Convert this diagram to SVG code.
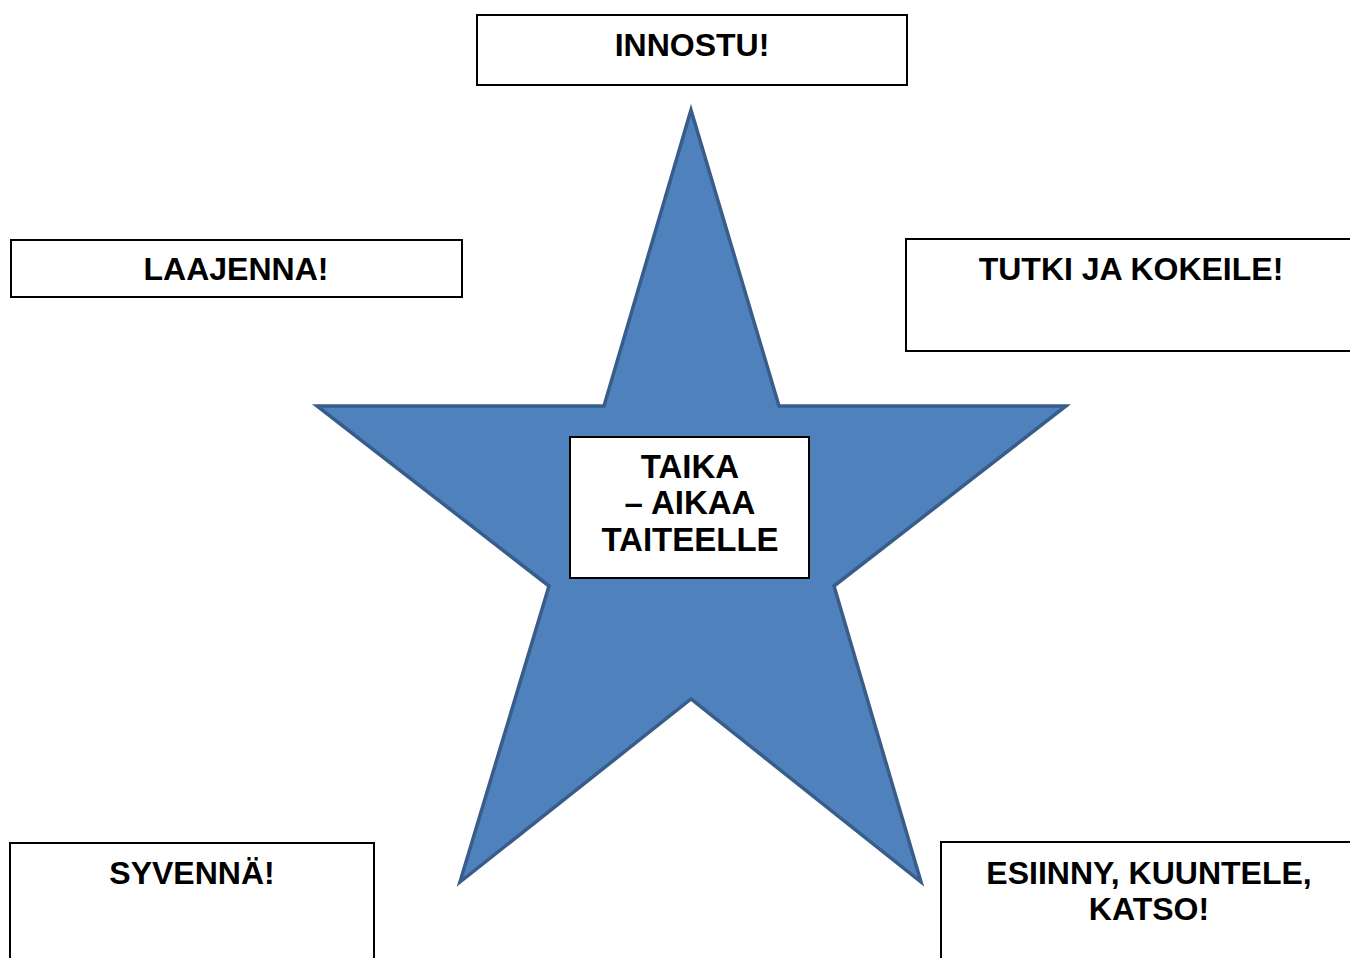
<svg xmlns="http://www.w3.org/2000/svg" width="1350" height="958" viewBox="0 0 1350 958">
<style>
.box{fill:#fff;stroke:#000;stroke-width:2}
.t{font-family:"Liberation Sans",Arial,sans-serif;font-weight:bold;font-size:32px;fill:#000;text-anchor:middle}
</style>
<rect width="1350" height="958" fill="#fff"/>
<g id="star">
<polygon points="691,110 779,406 1066,406 834,586 921,882 691,699 460,882 549,586 317,406 604,406" fill="#4F81BD" stroke="#385D8A" stroke-width="3.5" stroke-linejoin="miter" stroke-miterlimit="4"/>
</g>
<g id="center">
<rect class="box" x="570" y="437" width="239" height="141" stroke-width="1.5"/>
<text class="t" x="690" y="478" style="font-size:33px">TAIKA</text>
<text class="t" x="690" y="514" style="font-size:33px">– AIKAA</text>
<text class="t" x="690" y="551" style="font-size:33px">TAITEELLE</text>
</g>
<g id="innostu">
<rect class="box" x="477" y="15" width="430" height="70"/>
<text class="t" x="692" y="56">INNOSTU!</text>
</g>
<g id="laajenna">
<rect class="box" x="11" y="240" width="451" height="57"/>
<text class="t" x="236" y="280">LAAJENNA!</text>
</g>
<g id="tutki">
<rect class="box" x="906" y="239" width="460" height="112"/>
<text class="t" x="1131" y="280">TUTKI JA KOKEILE!</text>
</g>
<g id="syvenna">
<rect class="box" x="10" y="843" width="364" height="130"/>
<text class="t" x="192" y="884">SYVENNÄ!</text>
</g>
<g id="esiinny">
<rect class="box" x="941" y="842" width="430" height="130"/>
<text class="t" x="1149" y="884">ESIINNY, KUUNTELE,</text>
<text class="t" x="1149" y="920">KATSO!</text>
</g>
<g id="connectors"></g>
</svg>
